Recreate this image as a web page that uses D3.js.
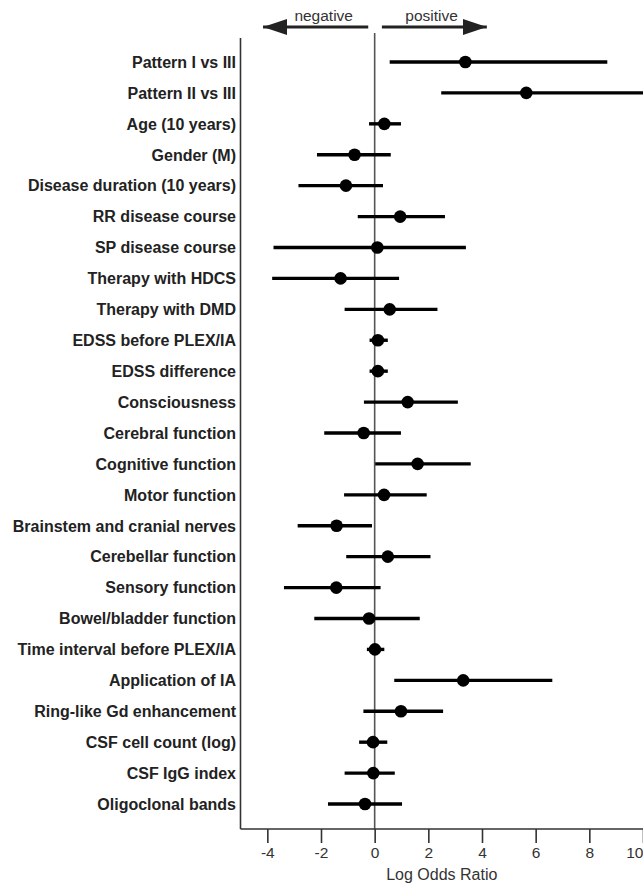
<!DOCTYPE html>
<html>
<head>
<meta charset="utf-8">
<script src="https://cdn.jsdelivr.net/npm/d3@7"></script>
<style>
  body { margin: 0; background: #fff; }
  svg { display: block; }
  text { font-family: "Liberation Sans", Arial, sans-serif; }
</style>
</head>
<body>
<div id="graph"></div>
<script>
// chart data
const labels = [
  "Pattern I vs III", "Pattern II vs III", "Age (10 years)", "Gender (M)",
  "Disease duration (10 years)", "RR disease course", "SP disease course",
  "Therapy with HDCS", "Therapy with DMD", "EDSS before PLEX/IA", "EDSS difference",
  "Consciousness", "Cerebral function", "Cognitive function", "Motor function",
  "Brainstem and cranial nerves", "Cerebellar function", "Sensory function",
  "Bowel/bladder function", "Time interval before PLEX/IA", "Application of IA",
  "Ring-like Gd enhancement", "CSF cell count (log)", "CSF IgG index", "Oligoclonal bands"
];
const estimates = [3.38, 5.65, 0.36, -0.75, -1.07, 0.95, 0.10, -1.27, 0.56, 0.12, 0.12,
  1.23, -0.41, 1.60, 0.35, -1.42, 0.49, -1.43, -0.21, 0.01, 3.30, 0.98, -0.06, -0.05, -0.36];
const lower = [0.56, 2.48, -0.21, -2.15, -2.84, -0.63, -3.77, -3.82, -1.12, -0.19, -0.19,
  -0.40, -1.88, 0.02, -1.14, -2.87, -1.06, -3.38, -2.25, -0.29, 0.73, -0.42, -0.58, -1.12, -1.74];
const upper = [8.67, 11.5, 0.98, 0.60, 0.31, 2.62, 3.40, 0.91, 2.34, 0.49, 0.49,
  3.10, 0.98, 3.58, 1.94, -0.10, 2.08, 0.22, 1.68, 0.36, 6.62, 2.55, 0.47, 0.75, 1.02];
const xTicks = [-4, -2, 0, 2, 4, 6, 8, 10];

const width = 643, height = 883;
const plotLeft = 240.5, plotRight = 643, plotBottom = 829, plotTop = 38;

let data = labels.map(function(d, i) {
  return {label: d, est: estimates[i], lo: lower[i], hi: upper[i]};
});

let svg = d3.select("#graph")
  .append("svg")
  .attr("width", width)
  .attr("height", height);

let defs = svg.append("defs");

let x = d3.scaleLinear()
  .domain([-5, 10])
  .range([plotLeft, plotRight]);

let y = d3.scalePoint()
  .domain(labels)
  .range([62, 804]);

defs.append("clipPath").attr("id", "plot-clip")
  .append("rect")
  .attr("x", plotLeft).attr("y", 0)
  .attr("width", plotRight - plotLeft).attr("height", plotBottom);

// zero line
svg.append("line")
  .attr("x1", x(0)).attr("x2", x(0))
  .attr("y1", 33).attr("y2", plotBottom)
  .attr("stroke", "#555")
  .attr("stroke-width", 1.6);

// bottom axis
let xAxis = svg.append("g")
  .attr("transform", `translate(0,${plotBottom})`)
  .call(d3.axisBottom(x).tickValues(xTicks).tickSize(14).tickPadding(4).tickFormat(d3.format("d")));
xAxis.select(".domain").remove();
xAxis.selectAll(".tick line").attr("stroke", "#333").attr("stroke-width", 1.6);
xAxis.selectAll(".tick text")
  .attr("fill", "#333")
  .style("font-size", "15.5px")
  .text(function(d) { return d < 0 ? "-" + Math.abs(d) : d; });
// last label sits on the right edge, keep it inside
xAxis.selectAll(".tick text")
  .filter(function(d) { return d === 10; })
  .attr("text-anchor", "end");

svg.append("line")
  .attr("x1", plotLeft).attr("x2", plotRight)
  .attr("y1", plotBottom).attr("y2", plotBottom)
  .attr("stroke", "#333").attr("stroke-width", 1.6);

// left axis line
svg.append("line")
  .attr("x1", plotLeft).attr("x2", plotLeft)
  .attr("y1", plotTop).attr("y2", plotBottom)
  .attr("stroke", "#333").attr("stroke-width", 1.6);

// row labels
svg.append("g")
  .selectAll("text")
  .data(data)
  .enter()
  .append("text")
  .attr("x", 236)
  .attr("y", function(d) { return y(d.label); })
  .attr("dy", "0.36em")
  .attr("text-anchor", "end")
  .attr("fill", "#222")
  .style("font-size", "16px")
  .style("font-weight", "bold")
  .text(function(d) { return d.label; });

// confidence intervals
let marks = svg.append("g").attr("clip-path", "url(#plot-clip)");

marks.selectAll("line")
  .data(data)
  .enter()
  .append("line")
  .attr("x1", function(d) { return x(d.lo); })
  .attr("x2", function(d) { return x(d.hi); })
  .attr("y1", function(d) { return y(d.label); })
  .attr("y2", function(d) { return y(d.label); })
  .attr("stroke", "#000")
  .attr("stroke-width", 3.4);

marks.selectAll("circle")
  .data(data)
  .enter()
  .append("circle")
  .attr("cx", function(d) { return x(d.est); })
  .attr("cy", function(d) { return y(d.label); })
  .attr("r", 6.3)
  .attr("fill", "#000");

// direction arrows on top
defs.append("marker")
  .attr("id", "arrow")
  .attr("viewBox", "0 0 24 16")
  .attr("refX", 24).attr("refY", 8)
  .attr("markerWidth", 24).attr("markerHeight", 16)
  .attr("markerUnits", "userSpaceOnUse")
  .attr("orient", "auto")
  .append("path")
  .attr("d", "M0,0L24,8L0,16Z")
  .attr("fill", "#222");

svg.append("line")
  .attr("x1", x(-0.24)).attr("x2", x(-4.16))
  .attr("y1", 27).attr("y2", 27)
  .attr("stroke", "#222").attr("stroke-width", 3)
  .attr("marker-end", "url(#arrow)");

svg.append("line")
  .attr("x1", x(0.27)).attr("x2", x(4.18))
  .attr("y1", 27).attr("y2", 27)
  .attr("stroke", "#222").attr("stroke-width", 3)
  .attr("marker-end", "url(#arrow)");

svg.append("text")
  .attr("x", x(-1.9)).attr("y", 21)
  .attr("text-anchor", "middle")
  .attr("fill", "#333")
  .style("font-size", "15.5px")
  .text("negative");

svg.append("text")
  .attr("x", x(2.12)).attr("y", 21)
  .attr("text-anchor", "middle")
  .attr("fill", "#333")
  .style("font-size", "15.5px")
  .text("positive");

// axis title
svg.append("text")
  .attr("x", (plotLeft + plotRight) / 2)
  .attr("y", 880)
  .attr("text-anchor", "middle")
  .attr("fill", "#333")
  .style("font-size", "16px")
  .text("Log Odds Ratio");
</script>
</body>
</html>
